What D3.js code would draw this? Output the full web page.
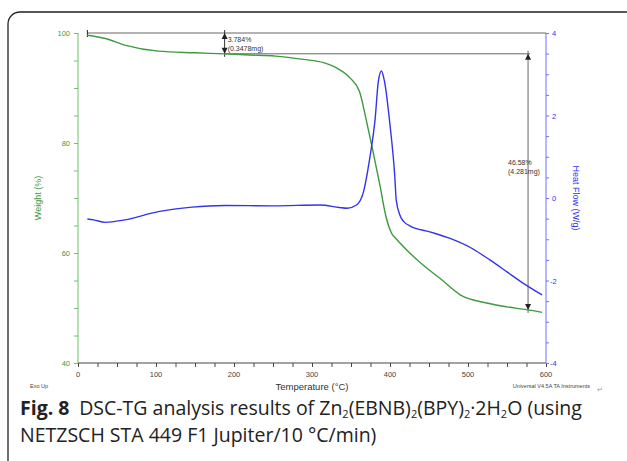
<!DOCTYPE html>
<html>
<head>
<meta charset="utf-8">
<script src="https://cdn.jsdelivr.net/npm/d3@7"></script>
<style>
  body { margin: 0; background: #fff; }
  svg text { font-family: "Liberation Sans", Arial, sans-serif; }
</style>
</head>
<body>
<div id="chart"></div>
<script>
// TG curve (weight %)
const weightTemp = [12, 35, 60, 103, 150, 188, 220, 253, 289, 315, 332, 349, 361, 370, 377, 387, 395, 402, 409, 426, 445, 464, 490, 524, 550, 575, 595];
const weightVal  = [99.6, 99.0, 97.8, 96.7, 96.4, 96.2, 96.0, 95.8, 95.2, 94.6, 93.6, 91.8, 89.3, 83.9, 79.3, 72.4, 66.5, 63.6, 62.4, 59.9, 57.5, 55.4, 52.4, 50.9, 50.2, 49.7, 49.2];

// DSC curve (heat flow W/g)
const heatTemp = [12, 20, 35, 60, 103, 146, 188, 250, 310, 335, 345, 357, 366, 374, 381, 385, 389, 393, 400, 406, 408, 413, 418, 426, 451, 477, 503, 528, 550, 571, 595];
const heatVal  = [-0.51, -0.53, -0.59, -0.53, -0.33, -0.22, -0.18, -0.19, -0.17, -0.23, -0.25, -0.17, 0.15, 0.96, 1.93, 2.82, 3.08, 2.82, 1.77, 0.56, -0.05, -0.43, -0.58, -0.68, -0.82, -0.98, -1.2, -1.5, -1.79, -2.07, -2.35];

const tempTicks   = [0, 100, 200, 300, 400, 500, 600];
const weightTicks = [40, 60, 80, 100];
const heatTicks   = [-4, -2, 0, 2, 4];

// weight-loss steps read from the instrument annotations
const stepTemp  = [188, 577];
const stepFrom  = [100, 96.216];
const stepTo    = [96.216, 49.636];
const stepPct   = ["3.784%", "46.58%"];
const stepMass  = ["(0.3478mg)", "(4.281mg)"];

const width = 627, height = 461;
const svg = d3.select('#chart').append('svg')
  .attr('width', width).attr('height', height);

// frame
svg.append('rect')
  .attr('x', 8).attr('y', 12)
  .attr('width', 630).attr('height', 480)
  .attr('rx', 12).attr('ry', 12)
  .attr('fill', 'none').attr('stroke', '#222').attr('stroke-width', 1.3);

let x = d3.scaleLinear().domain([0, 600]).range([78, 546]);
let yW = d3.scaleLinear().domain([40, 100]).range([363, 33]);
let yH = d3.scaleLinear().domain([-4, 4]).range([363, 33]);

const green = '#3d9a3d', greenAxis = '#6cc36c';
const blue = '#3333ee', blueAxis = '#7070ff';
const grey = '#444';

// x axis
let xAxis = svg.append('g')
  .attr('transform', 'translate(0,363)')
  .call(d3.axisBottom(x).tickValues(d3.range(0, 601, 25)).tickSize(4).tickFormat(''));
xAxis.selectAll('line, path').attr('stroke', grey);
xAxis.select('.domain').attr('d', 'M78,0H546');
svg.append('g').selectAll('text')
  .data(tempTicks).enter().append('text')
  .attr('x', d => x(d)).attr('y', 377)
  .attr('text-anchor', 'middle')
  .attr('font-size', 7.5).attr('fill', grey)
  .text(d => d);

// left axis (weight)
let leftAxis = svg.append('g')
  .attr('transform', 'translate(78,0)')
  .call(d3.axisLeft(yW).tickValues(d3.range(40, 101, 5)).tickSize(4).tickFormat(''));
leftAxis.selectAll('line, path').attr('stroke', greenAxis);
leftAxis.select('.domain').attr('d', 'M0,33V363');
svg.append('g').selectAll('text')
  .data(weightTicks).enter().append('text')
  .attr('x', 70).attr('y', d => yW(d) + 3)
  .attr('text-anchor', 'end')
  .attr('font-size', 7.5).attr('fill', green)
  .text(d => d);

// right axis (heat flow)
let rightAxis = svg.append('g')
  .attr('transform', 'translate(546,0)')
  .call(d3.axisRight(yH).tickValues(d3.range(-4, 4.01, 0.5)).tickSize(3).tickFormat(''));
rightAxis.selectAll('line, path').attr('stroke', blueAxis);
rightAxis.select('.domain').attr('d', 'M0,33V363');
svg.append('g').selectAll('text')
  .data(heatTicks).enter().append('text')
  .attr('x', d => d < 0 ? 550 : 552).attr('y', d => yH(d) + 3)
  .attr('text-anchor', 'start')
  .attr('font-size', 7.5).attr('fill', blue)
  .text(d => d);

// axis titles
svg.append('text')
  .attr('transform', 'translate(41,198) rotate(-90)')
  .attr('text-anchor', 'middle').attr('font-size', 9).attr('fill', green)
  .text('Weight (%)');
svg.append('text')
  .attr('transform', 'translate(573,198) rotate(90)')
  .attr('text-anchor', 'middle').attr('font-size', 9).attr('fill', blue)
  .text('Heat Flow (W/g)');
svg.append('text')
  .attr('x', 312).attr('y', 390)
  .attr('text-anchor', 'middle').attr('font-size', 9.5).attr('fill', '#333')
  .text('Temperature (°C)');
svg.append('text')
  .attr('x', 30).attr('y', 388)
  .attr('font-size', 5.5).attr('fill', grey)
  .text('Exo Up');
svg.append('text')
  .attr('x', 590).attr('y', 388)
  .attr('text-anchor', 'end').attr('font-size', 5.5).attr('fill', grey)
  .text('Universal V4.5A TA Instruments');
svg.append('text')
  .attr('x', 597).attr('y', 392)
  .attr('font-size', 7).attr('fill', '#999')
  .text('\u21B5');

// annotation lines
const annoColor = '#666';
svg.append('line')
  .attr('x1', x(12)).attr('x2', x(600))
  .attr('y1', yW(stepFrom[0])).attr('y2', yW(stepFrom[0]))
  .attr('stroke', annoColor).attr('stroke-width', 1);
svg.append('line')
  .attr('x1', x(12)).attr('x2', x(12))
  .attr('y1', yW(stepFrom[0]) - 3).attr('y2', yW(stepFrom[0]) + 4)
  .attr('stroke', '#222').attr('stroke-width', 1);
svg.append('line')
  .attr('x1', x(stepTemp[0])).attr('x2', x(stepTemp[1]) + 2)
  .attr('y1', yW(stepFrom[1])).attr('y2', yW(stepFrom[1]))
  .attr('stroke', annoColor).attr('stroke-width', 1);

stepTemp.forEach((t, i) => {
  let xp = x(t);
  let yTop = yW(stepFrom[i]), yBot = yW(stepTo[i]);
  svg.append('line')
    .attr('x1', xp).attr('x2', xp)
    .attr('y1', yTop - 3).attr('y2', yBot + 3)
    .attr('stroke', i == 0 ? '#333' : annoColor).attr('stroke-width', 1);
  // arrowheads
  svg.append('path')
    .attr('d', `M${xp},${yTop}l-3,6h6z`)
    .attr('fill', '#222');
  svg.append('path')
    .attr('d', `M${xp},${yBot}l-3,-6h6z`)
    .attr('fill', '#222');
});

svg.append('text').attr('x', x(stepTemp[0]) + 3).attr('y', 42)
  .attr('font-size', 7).attr('fill', '#333').text(stepPct[0]);
svg.append('text').attr('x', x(stepTemp[0]) + 3).attr('y', 51)
  .attr('font-size', 7).attr('fill', '#333').text(stepMass[0]);
svg.append('text').attr('x', 508).attr('y', 165)
  .attr('font-size', 7).attr('fill', '#333').text(stepPct[1]);
svg.append('text').attr('x', 508).attr('y', 174)
  .attr('font-size', 7).attr('fill', '#333').text(stepMass[1]);

// curves
let weightLine = d3.line()
  .x((d, i) => x(weightTemp[i]))
  .y(d => yW(d))
  .curve(d3.curveMonotoneX);
let heatLine = d3.line()
  .x((d, i) => x(heatTemp[i]))
  .y(d => yH(d))
  .curve(d3.curveMonotoneX);

svg.append('path')
  .datum(weightVal)
  .attr('d', weightLine)
  .attr('fill', 'none').attr('stroke', green).attr('stroke-width', 1.4);
svg.append('path')
  .datum(heatVal)
  .attr('d', heatLine)
  .attr('fill', 'none').attr('stroke', blue).attr('stroke-width', 1.4);

// caption
let cap1 = svg.append('text')
  .attr('x', 20).attr('y', 415)
  .attr('font-size', 19.5).attr('fill', '#222')
  .style('font-family', '"Open Sans", sans-serif');
cap1.append('tspan').attr('font-weight', 'bold').text('Fig. 8');
cap1.append('tspan').text('\u2002DSC-TG analysis results of Zn');
cap1.append('tspan').attr('font-size', 11).attr('dy', 3).text('2');
cap1.append('tspan').attr('dy', -3).text('(EBNB)');
cap1.append('tspan').attr('font-size', 11).attr('dy', 3).text('2');
cap1.append('tspan').attr('dy', -3).text('(BPY)');
cap1.append('tspan').attr('font-size', 11).attr('dy', 3).text('2');
cap1.append('tspan').attr('dy', -3).text('\u00B72H');
cap1.append('tspan').attr('font-size', 11).attr('dy', 3).text('2');
cap1.append('tspan').attr('dy', -3).text('O (using');
svg.append('text')
  .attr('x', 20).attr('y', 442)
  .attr('font-size', 19.5).attr('fill', '#222')
  .style('font-family', '"Open Sans", sans-serif')
  .text('NETZSCH STA 449 F1 Jupiter/10 °C/min)');
</script>
</body>
</html>
